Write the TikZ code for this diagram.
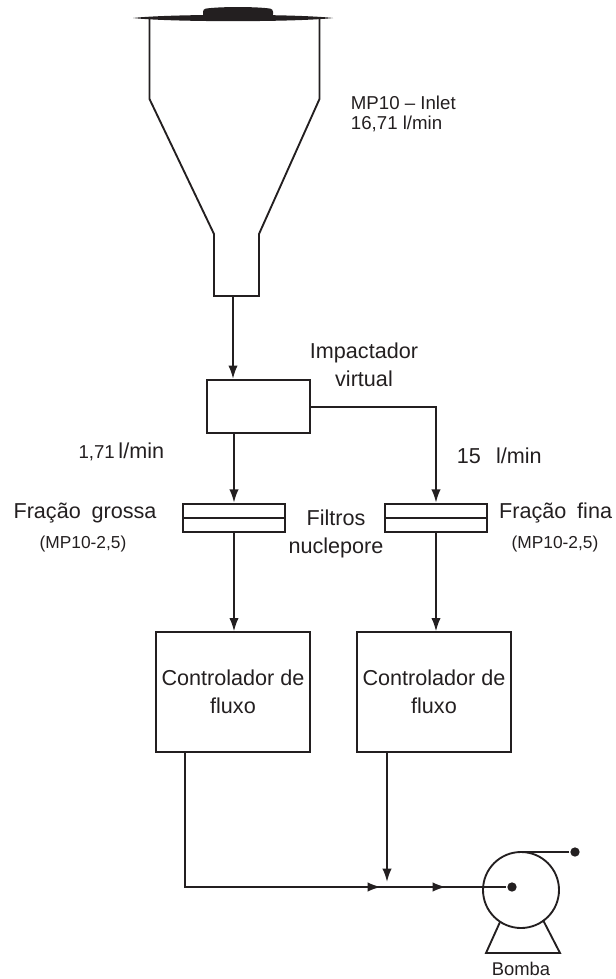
\documentclass[tikz,border=0pt]{standalone}
\usepackage{fontspec}
\setmainfont{Liberation Sans}
\usetikzlibrary{arrows.meta, positioning, calc}
\definecolor{inkdark}{HTML}{231F20}

\begin{document}
\begin{tikzpicture}[
  x=0.75pt, y=-0.75pt,
  line width=1.4pt, text=inkdark,
  flow/.style={draw=inkdark, -{Latex[length=10pt,width=7pt]}},
  pipe/.style={draw=inkdark},
  ctrlbox/.style={draw=inkdark, rectangle, minimum width=115pt, minimum height=89.5pt, inner sep=0pt},
  filterbox/.style={draw=inkdark, rectangle, minimum width=76pt, minimum height=21.5pt, inner sep=0pt},
  lbl/.style={font=\fontsize{16.2pt}{21pt}\selectfont, align=center, inner sep=0pt},
  lblsmall/.style={font=\fontsize{14pt}{15pt}\selectfont, align=left, inner sep=0pt},
  lbltiny/.style={font=\fontsize{13pt}{14pt}\selectfont, align=center, inner sep=0pt},
  pumpdot/.style={circle, fill=inkdark, draw=none, minimum size=7pt, inner sep=0pt},
]
\useasboundingbox (0,0) rectangle (615,979);
% --- inlet head ---
\fill[inkdark] (133,18) .. controls (170,13.8) and (296,13.8) .. (333,18)
  .. controls (296,22.2) and (170,22.2) .. (133,18) -- cycle;
\fill[inkdark, rounded corners=2pt] (203,17) -- (203,9) .. controls (220,6.5) and (256,6.5) .. (273,9) -- (273,17) -- cycle;
\draw[pipe] (149.5,19) -- (149.5,99) -- (214,234) -- (214,296) -- (259,296) -- (259,234) -- (319.5,99) -- (319.5,19);
\coordinate (inletout) at (233,296);
\node[lblsmall, anchor=north west] (inletlbl) at (350,95) {MP10 – Inlet\\16,71 l/min};
% --- impactor ---
\node[draw=inkdark, rectangle, minimum width=77pt, minimum height=40pt, inner sep=0pt] (imp) at (258.5,406.5) {};
\node[lbl] (implbl) at (364,365) {Impactador\\virtual};
\coordinate (impright) at (310,407);
\coordinate (impleft) at (234,433);
% --- filters ---
\node[filterbox] (filtA) at (234,518) {};
\node[filterbox] (filtB) at (436,518) {};
\draw[pipe] (filtA.west) -- (filtA.east);
\draw[pipe] (filtB.west) -- (filtB.east);
\node[lbl] (filtlbl) at (336,534) {Filtros\\nuclepore};
\node[lbl] (grossa) at (85,513) {Fração\hspace{.5em}grossa};
\node[lbltiny] (grossasub) at (83,544) {(MP10-2,5)};
\node[lbl, anchor=east] (fina) at (613,513) {Fração\hspace{.5em}fina};
\node[lbltiny] (finasub) at (555,544) {(MP10-2,5)};
\node[lbl, anchor=east] (flowA) at (165,452) {{\fontsize{14pt}{14pt}\selectfont 1,71}\,l/min};
\node[lbl, anchor=west] (flowB) at (456,456) {15\hspace{.7em}l/min};
% --- controllers ---
\node[ctrlbox] (ctrlA) at (233,692) {};
\node[ctrlbox] (ctrlB) at (434,692) {};
\node[lbl] (ctrlAlbl) at (233,692) {Controlador de\\fluxo};
\node[lbl] (ctrlBlbl) at (434,692) {Controlador de\\fluxo};
\coordinate (ctrlAout) at (185,752);
\coordinate (ctrlBout) at (387,752);
% --- pump ---
\node[draw=inkdark, circle, minimum size=57pt, inner sep=0pt] (pump) at (521,890) {};
\node[pumpdot] (pumpin) at (512,887) {};
\node[pumpdot] (pumpout) at (575,852) {};
\node[lblsmall, font=\fontsize{13.8pt}{15pt}\selectfont] (bomba) at (521,969) {Bomba};
\draw[pipe] (500,922) -- (486,953) -- (560,953) -- (543,920);
\coordinate (bend) at (185,887);
\coordinate (joint) at (381,887);
\coordinate (joint2) at (446,887);
\coordinate (jointtop) at (387,882);
% --- flow lines ---
\draw[flow] (inletout) -- (inletout |- imp.north);
\draw[flow] (impleft) -- (impleft |- filtA.north);
\draw[flow] (impright) -| (filtB.north);
\draw[flow] (filtA.south) -- (filtA.south |- ctrlA.north);
\draw[flow] (filtB.south) -- (filtB.south |- ctrlB.north);
\draw[flow] (ctrlBout) -- (jointtop);
\draw[pipe] (ctrlAout) -- (bend) -- (pumpin);
\draw[flow] (bend) -- (joint);
\draw[flow] (joint) -- (joint2);
\draw[pipe] (pumpout) -- (pumpout -| pump.north);
\end{tikzpicture}
\end{document}
